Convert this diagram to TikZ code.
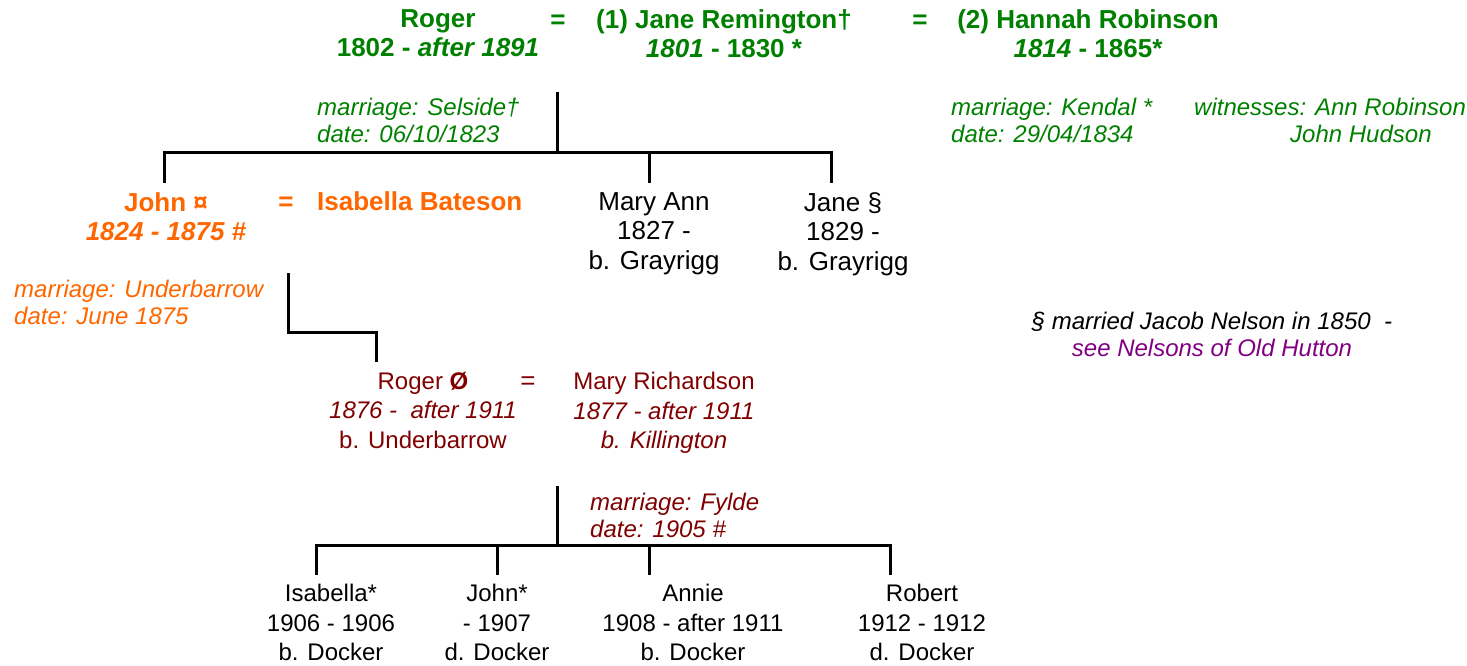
\documentclass[tikz,border=0pt]{standalone}
\usepackage{fontspec}
\setmainfont{Liberation Sans}
\definecolor{verde}{RGB}{0,128,0}
\definecolor{naranja}{RGB}{255,102,0}
\definecolor{granate}{RGB}{128,0,0}
\definecolor{morado}{RGB}{128,0,128}
\begin{document}
\begin{tikzpicture}[x=1pt,y=-1pt,
    cabeza/.style={font=\fontsize{26}{29.5}\selectfont\bfseries, align=center, inner sep=0pt, anchor=north},
    hijo/.style={font=\fontsize{26}{29.5}\selectfont, align=center, inner sep=0pt, anchor=north},
    nieto/.style={font=\fontsize{24}{29.5}\selectfont, align=center, inner sep=0pt, anchor=north},
    igual/.style={font=\fontsize{26}{29.5}\selectfont, inner sep=0pt, anchor=base},
    nota/.style={font=\fontsize{24}{26.5}\selectfont\itshape, align=left, inner sep=0pt, anchor=north west},
    linea/.style={line width=3pt}]
  \useasboundingbox (0,0) rectangle (1467,665);

  % Primera generacion
  \node[cabeza, text=verde] (roger) at (438,9) {Roger\\1802 - \textit{after 1891}};
  \node[igual, text=verde, font=\fontsize{26}{29.5}\selectfont\bfseries] (eq1) at (558,28) {=};
  \node[cabeza, text=verde] (jane) at (724,9) {(1) Jane Remington†\\\textit{1801} - 1830 *};
  \node[igual, text=verde, font=\fontsize{26}{29.5}\selectfont\bfseries] (eq2) at (920,28) {=};
  \node[cabeza, text=verde] (hannah) at (1088,9) {(2) Hannah Robinson\\\textit{1814} - 1865*};

  % Bodas
  \node[nota, text=verde] (boda1) at (317,98) {marriage: Selside†\\date: 06/10/1823};
  \node[nota, text=verde] (boda2) at (951,98) {marriage: Kendal *\\date: 29/04/1834};
  \node[nota, text=verde] (testigos) at (1194,98) {witnesses: Ann Robinson\\\hspace*{96pt}John Hudson};

  % Segunda generacion
  \node[cabeza, text=naranja] (john) at (166,192) {John ¤\\\textit{1824 - 1875 \#}};
  \node[igual, text=naranja, font=\fontsize{26}{29.5}\selectfont\bfseries] (eq3) at (286,210) {=};
  \node[cabeza, text=naranja, anchor=base west] (isabella) at (317,210) {Isabella Bateson};
  \node[hijo] (maryann) at (654,192) {Mary Ann\\1827 -\\b. Grayrigg};
  \node[hijo] (janes) at (843,192) {Jane §\\1829 -\\b. Grayrigg};
  \node[nota, text=naranja] (boda3) at (14,280) {marriage: Underbarrow\\date: June 1875};
  \node[nota, anchor=north, align=center] (nelson) at (1212,312) {§ married Jacob Nelson in 1850 \ -\\\textcolor{morado}{see Nelsons of Old Hutton}};

  % Tercera generacion
  \node[nieto, text=granate] (rogerj) at (423,372) {Roger \textbf{Ø}\\\textit{1876 - \ after 1911}\\b. Underbarrow};
  \node[igual, text=granate] (eq4) at (528,389) {=};
  \node[nieto, text=granate] (maryr) at (664,372) {Mary Richardson\\\textit{1877 - after 1911}\\\textit{b. Killington}};
  \node[nota, text=granate] (boda4) at (590,493) {marriage: Fylde\\date: 1905 \#};

  % Cuarta generacion
  \node[nieto] (isa) at (331,584) {Isabella*\\1906 - 1906\\b. Docker};
  \node[nieto] (johnj) at (497,584) {John*\\- 1907\\d. Docker};
  \node[nieto] (annie) at (693,584) {Annie\\1908 - after 1911\\b. Docker};
  \node[nieto] (robert) at (922,584) {Robert\\1912 - 1912\\d. Docker};

  % Puntos de las lineas
  \coordinate (wed1) at (557,92);
  \coordinate (bar1) at (557,152);
  \coordinate (djohn) at (164,183);
  \coordinate (dmary) at (649,183);
  \coordinate (djane) at (831,183);
  \coordinate (wed2) at (288,273);
  \coordinate (droger) at (376,362);
  \coordinate (wed3) at (557,486);
  \coordinate (bar3) at (557,545);
  \coordinate (disa) at (316,575);
  \coordinate (djohnj) at (497,575);
  \coordinate (dannie) at (649,575);
  \coordinate (drobert) at (890,575);

  % Dibujar las lineas
  \draw[linea] (wed1) -- (bar1);
  \draw[linea] (bar1) -| (djohn);
  \draw[linea] (bar1) -| (dmary);
  \draw[linea] (bar1) -| (djane);
  \draw[linea] (wed2) -- ++(0,59) -| (droger);
  \draw[linea] (wed3) -- (bar3);
  \draw[linea] (bar3) -| (disa);
  \draw[linea] (bar3) -| (djohnj);
  \draw[linea] (bar3) -| (dannie);
  \draw[linea] (bar3) -| (drobert);
\end{tikzpicture}
\end{document}
